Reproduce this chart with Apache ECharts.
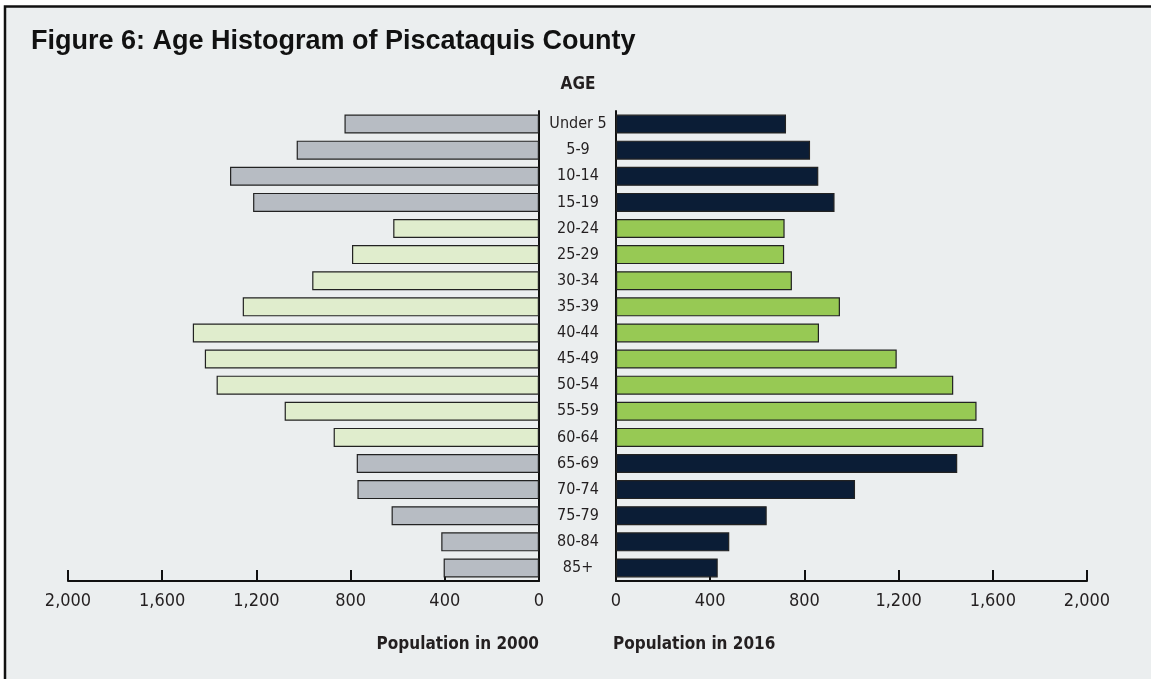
<!DOCTYPE html>
<html>
<head>
<meta charset="utf-8">
<script src="https://cdn.jsdelivr.net/npm/echarts@6/dist/echarts.min.js"></script>
<style>
html,body{margin:0;padding:0;background:#ffffff;}
#chart{width:1151px;height:679px;}
</style>
</head>
<body>
<div id="chart"></div>
<script>
var ageGroups = ['Under 5','5-9','10-14','15-19','20-24','25-29','30-34','35-39','40-44','45-49','50-54','55-59','60-64','65-69','70-74','75-79','80-84','85+'];
var workingAgeGroups = ['20-24','25-29','30-34','35-39','40-44','45-49','50-54','55-59','60-64'];
var pop2000 = [826,1029,1312,1214,619,794,963,1258,1470,1419,1369,1080,872,774,771,626,415,405];
var pop2016 = [722,824,859,928,716,714,747,951,862,1192,1432,1531,1560,1449,1015,640,481,432];
var xTicks = [0,400,800,1200,1600,2000];

var narrow = '"Liberation Sans Narrow","DejaVu Sans Condensed","Roboto Condensed",sans-serif';
var textColor = '#231f20';

function fmt(v){ return v.toLocaleString('en-US'); }

function colored(values, normal, working){
  return values.map(function(v,i){
    var isWorking = workingAgeGroups.indexOf(ageGroups[i]) >= 0;
    return {value: v, itemStyle: {color: isWorking ? working : normal}};
  });
}

var chart = echarts.init(document.getElementById('chart'), null, {renderer:'canvas'});

function xAxisCfg(gi, inverse){
  return {
    gridIndex: gi, type:'value', min: xTicks[0], max: xTicks[xTicks.length-1], interval: 400,
    inverse: inverse,
    axisLine:{show:true, lineStyle:{color:'#111', width:2}},
    axisTick:{show:true, inside:true, length:11, lineStyle:{color:'#111', width:2}},
    axisLabel:{show:true, margin:11, fontSize:18, color:textColor, fontFamily:narrow, formatter:fmt},
    splitLine:{show:false}
  };
}

var option = {
  backgroundColor:'transparent',
  animation:false,
  graphic:{elements:[
    {type:'rect', z:-10, shape:{x:5, y:6.5, width:1300, height:900}, style:{fill:'#ebeeef', stroke:'#111', lineWidth:2.5}}
  ]},
  title:[
    {text:'Figure 6: Age Histogram of Piscataquis County', left:31, top:28, padding:0,
     textStyle:{fontFamily:'"Liberation Sans",Arial,sans-serif', fontWeight:'bold', fontSize:27, color:'#111'}},
    {text:'AGE', left:578, top:76, padding:0, textAlign:'center',
     textStyle:{fontFamily:narrow, fontWeight:'bold', fontSize:17, color:textColor}},
    {text:'Population in 2000', left:539, top:636, padding:0, textAlign:'right',
     textStyle:{fontFamily:narrow, fontWeight:'bold', fontSize:17, color:textColor}},
    {text:'Population in 2016', left:613, top:636, padding:0, textAlign:'left',
     textStyle:{fontFamily:narrow, fontWeight:'bold', fontSize:17, color:textColor}}
  ],
  grid:[
    {left:68, width:471, top:111, height:470},
    {left:616, width:471, top:111, height:470}
  ],
  xAxis:[ xAxisCfg(0, true), xAxisCfg(1, false) ],
  yAxis:[
    {gridIndex:0, type:'category', data:ageGroups, inverse:true, position:'right',
     axisLine:{show:true, lineStyle:{color:'#111', width:2}}, axisTick:{show:false}, axisLabel:{show:false}, splitLine:{show:false}},
    {gridIndex:1, type:'category', data:ageGroups, inverse:true, position:'left',
     axisLine:{show:true, lineStyle:{color:'#111', width:2}}, axisTick:{show:false},
     axisLabel:{show:true, align:'center', margin:38, fontSize:16, color:textColor, fontFamily:narrow}, splitLine:{show:false}}
  ],
  series:[
    {type:'bar', xAxisIndex:0, yAxisIndex:0, barWidth:19, data: colored(pop2000, '#b7bcc3', '#e0edcd'),
     itemStyle:{borderColor:'#222', borderWidth:1.2}},
    {type:'bar', xAxisIndex:1, yAxisIndex:1, barWidth:19, data: colored(pop2016, '#0b1d36', '#97c954'),
     itemStyle:{borderColor:'#222', borderWidth:1.2}}
  ]
};
chart.setOption(option);
</script>
</body>
</html>
